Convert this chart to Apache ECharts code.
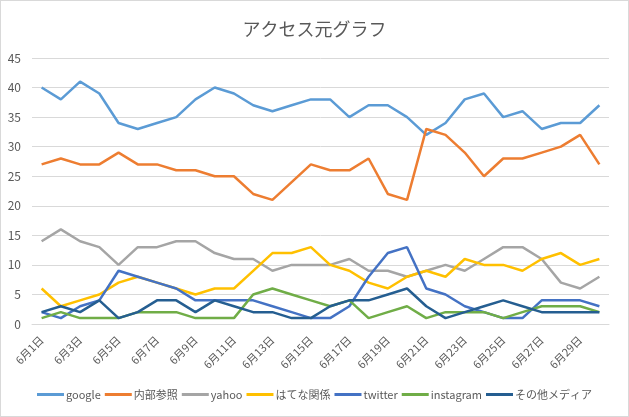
<!DOCTYPE html>
<html><head><meta charset="utf-8">
<script src="https://cdn.jsdelivr.net/npm/echarts@6/dist/echarts.min.js"></script>
<style>
html,body{margin:0;padding:0;background:#fff;}
#c{width:629px;height:417px;box-sizing:border-box;border:1px solid #d9d9d9;}
</style></head>
<body><div id="c"></div>
<script>
const categories = ['6月1日','6月2日','6月3日','6月4日','6月5日','6月6日','6月7日','6月8日','6月9日','6月10日','6月11日','6月12日','6月13日','6月14日','6月15日','6月16日','6月17日','6月18日','6月19日','6月20日','6月21日','6月22日','6月23日','6月24日','6月25日','6月26日','6月27日','6月28日','6月29日','6月30日'];
const google   = [40,38,41,39,34,33,34,35,38,40,39,37,36,37,38,38,35,37,37,35,32,34,38,39,35,36,33,34,34,37];
const naibu    = [27,28,27,27,29,27,27,26,26,25,25,22,21,24,27,26,26,28,22,21,33,32,29,25,28,28,29,30,32,27];
const yahoo    = [14,16,14,13,10,13,13,14,14,12,11,11,9,10,10,10,11,9,9,8,9,10,9,11,13,13,11,7,6,8];
const hatena   = [6,3,4,5,7,8,7,6,5,6,6,9,12,12,13,10,9,7,6,8,9,8,11,10,10,9,11,12,10,11];
const twitter  = [2,1,3,4,9,8,7,6,4,4,4,4,3,2,1,1,3,8,12,13,6,5,3,2,1,1,4,4,4,3];
const instagram= [1,2,1,1,1,2,2,2,1,1,1,5,6,5,4,3,4,1,2,3,1,2,2,2,1,2,3,3,3,2];
const others   = [2,3,2,4,1,2,4,4,2,4,3,2,2,1,1,3,4,4,5,6,3,1,2,3,4,3,2,2,2,2];
const seriesNames = ['google','内部参照','yahoo','はてな関係','twitter','instagram','その他メディア'];
const seriesData = [google,naibu,yahoo,hatena,twitter,instagram,others];
const colors = ['#5B9BD5','#ED7D31','#A5A5A5','#FFC000','#4472C4','#70AD47','#255E91'];
const font = '"Noto Sans CJK JP", "Noto Sans", sans-serif';

const chart = echarts.init(document.getElementById('c'), null, {renderer:'canvas'});
chart.setOption({
  animation:false,
  color: colors,
  textStyle:{fontFamily:font},
  title:{text:'アクセス元グラフ', left:'center', top:14,
    textStyle:{fontSize:18, fontWeight:'normal', color:'#595959', fontFamily:font}},
  grid:{left:31, right:19, top:57, bottom:92, containLabel:false},
  legend:{bottom:11, left:'center', icon:'rect', itemWidth:27, itemHeight:3, itemGap:4,
    textStyle:{fontSize:11, color:'#595959', padding:[0,0,0,-3]}, data:seriesNames},
  xAxis:{type:'category', data:categories, boundaryGap:true,
    axisLine:{lineStyle:{color:'#d9d9d9'}},
    axisTick:{interval:1, length:5, lineStyle:{color:'#d9d9d9'}},
    axisLabel:{interval:1, rotate:45, color:'#595959', fontSize:11, margin:14}},
  yAxis:{type:'value', min:0, max:45, interval:5,
    axisLine:{show:false}, axisTick:{show:false},
    axisLabel:{color:'#595959', fontSize:12, margin:11},
    splitLine:{lineStyle:{color:'#d9d9d9'}}},
  series: seriesNames.map((n,i)=>({name:n, type:'line', data:seriesData[i],
    symbol:'none', lineStyle:{width:2.5, color:colors[i]}, itemStyle:{color:colors[i]}}))
});
</script></body></html>
